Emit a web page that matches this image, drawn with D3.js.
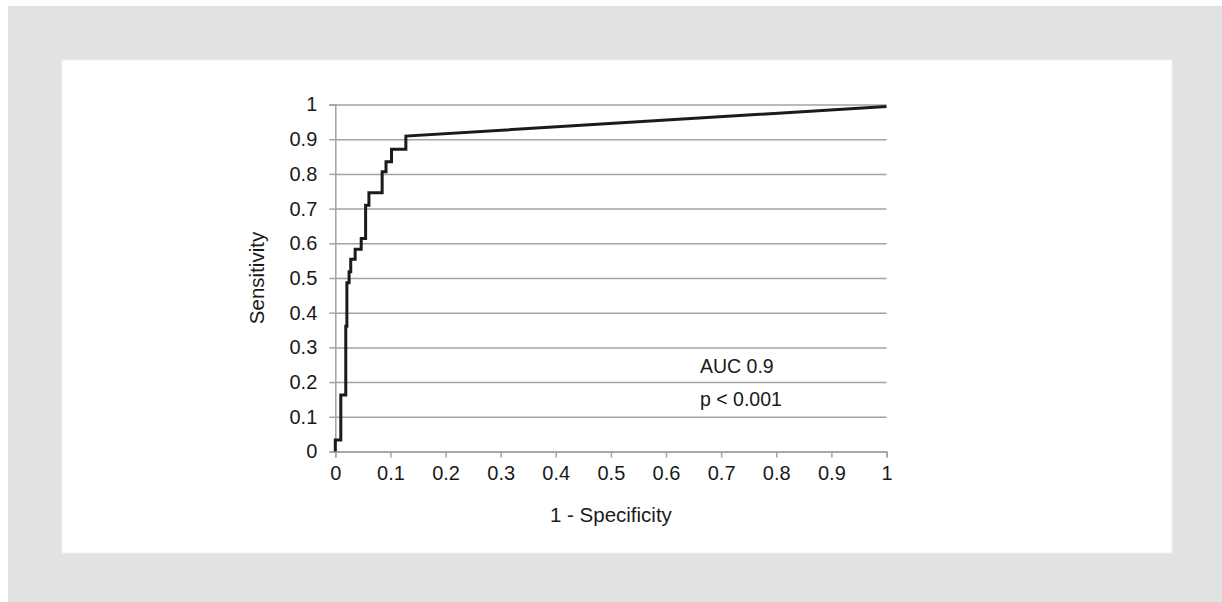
<!DOCTYPE html>
<html>
<head>
<meta charset="utf-8">
<script src="https://cdn.jsdelivr.net/npm/d3@7"></script>
<style>
  html, body { margin: 0; padding: 0; background: #fff; }
  svg { display: block; }
</style>
</head>
<body>
<svg></svg>
<script>
// ROC curve, sensitivity vs 1 - specificity

const WIDTH = 1222;
const HEIGHT = 602;

const PLOT_LEFT = 335.3;
const PLOT_RIGHT = 886.5;
const PLOT_TOP = 104.5;
const PLOT_BOTTOM = 451.5;

// data (corners of the step curve)
const fpr = [0, 0, 0.010, 0.010, 0.019, 0.019, 0.021, 0.021, 0.025, 0.025, 0.028, 0.028, 0.036, 0.036,
  0.047, 0.047, 0.055, 0.055, 0.061, 0.061, 0.085, 0.085, 0.092, 0.092, 0.102, 0.102, 0.128, 0.128, 1];
const tpr = [0, 0.033, 0.033, 0.163, 0.163, 0.361, 0.361, 0.486, 0.486, 0.518, 0.518, 0.554, 0.554, 0.583,
  0.583, 0.614, 0.614, 0.710, 0.710, 0.746, 0.746, 0.806, 0.806, 0.835, 0.835, 0.871, 0.871, 0.909, 0.994];

const xTicks = [0, 0.1, 0.2, 0.3, 0.4, 0.5, 0.6, 0.7, 0.8, 0.9, 1];
const yTicks = [0, 0.1, 0.2, 0.3, 0.4, 0.5, 0.6, 0.7, 0.8, 0.9, 1];
const tickLabels = ['0', '0.1', '0.2', '0.3', '0.4', '0.5', '0.6', '0.7', '0.8', '0.9', '1'];

const annotations = ['AUC 0.9', 'p < 0.001'];

const FONT = '"Liberation Sans", Arial, Helvetica, sans-serif';
const GRID = '#a3a3a3';

const svg = d3.select('svg').
attr('width', WIDTH).
attr('height', HEIGHT).
attr('font-family', FONT);

// backgrounds
svg.append('rect').
attr('x', 8).
attr('y', 6).
attr('width', WIDTH - 8).
attr('height', HEIGHT - 6).
attr('fill', '#e1e2e4');

svg.append('rect').
attr('x', 62).
attr('y', 60).
attr('width', 1110).
attr('height', 493).
attr('fill', '#fff').
attr('stroke', '#f1f1f2').
attr('stroke-width', 1);

const x = d3.scaleLinear().domain([0, 1]).range([PLOT_LEFT, PLOT_RIGHT]);
const y = d3.scaleLinear().domain([0, 1]).range([PLOT_BOTTOM, PLOT_TOP]);

// gridlines
const grid = svg.append('g').
attr('class', 'grid').
attr('transform', `translate(${PLOT_LEFT}, 0)`).
call(d3.axisLeft(y).tickValues(yTicks).tickSize(-(PLOT_RIGHT - PLOT_LEFT)).tickFormat(''));
grid.select('.domain').remove();
grid.selectAll('line').attr('stroke', GRID).attr('stroke-width', 1.5);

// y axis
const yAxis = svg.append('g').
attr('transform', `translate(${PLOT_LEFT}, 0)`).
call(d3.axisLeft(y).tickValues(yTicks).tickSize(6).tickPadding(12).
tickFormat((d, i) => tickLabels[i]));
yAxis.select('.domain').attr('stroke', GRID).attr('stroke-width', 1.5);
yAxis.selectAll('line').attr('stroke', GRID).attr('stroke-width', 1.5);
yAxis.selectAll('text').attr('font-size', 20).attr('fill', '#1a1a1a').attr('font-family', FONT);

// x axis
const xAxis = svg.append('g').
attr('transform', `translate(0, ${PLOT_BOTTOM})`).
call(d3.axisBottom(x).tickValues(xTicks).tickSize(6).tickPadding(8).
tickFormat((d, i) => tickLabels[i]));
xAxis.select('.domain').attr('stroke', GRID).attr('stroke-width', 1.5);
xAxis.selectAll('line').attr('stroke', GRID).attr('stroke-width', 1.5);
xAxis.selectAll('text').attr('font-size', 20).attr('fill', '#1a1a1a').attr('font-family', FONT);

// axis titles
svg.append('text').
text('1 - Specificity').
attr('x', (PLOT_LEFT + PLOT_RIGHT) / 2).
attr('y', 522).
attr('text-anchor', 'middle').
attr('font-size', 20.5).
attr('fill', '#1a1a1a');

svg.append('text').
text('Sensitivity').
attr('transform', `translate(264, ${(PLOT_TOP + PLOT_BOTTOM) / 2}) rotate(-90)`).
attr('text-anchor', 'middle').
attr('font-size', 20.5).
attr('fill', '#1a1a1a');

// curve
const points = fpr.map((f, i) => [f, tpr[i]]);
svg.append('path').
datum(points).
attr('d', d3.line().x(d => x(d[0])).y(d => y(d[1]))).
attr('fill', 'none').
attr('stroke', '#1b1b1b').
attr('stroke-width', 3).
attr('stroke-linejoin', 'miter');

// annotations
svg.selectAll('.note').
data(annotations).
enter().
append('text').
attr('class', 'note').
attr('x', 700).
attr('y', (d, i) => 373 + i * 33).
attr('font-size', 19.5).
attr('fill', '#1a1a1a').
text(d => d);
</script>
</body>
</html>
